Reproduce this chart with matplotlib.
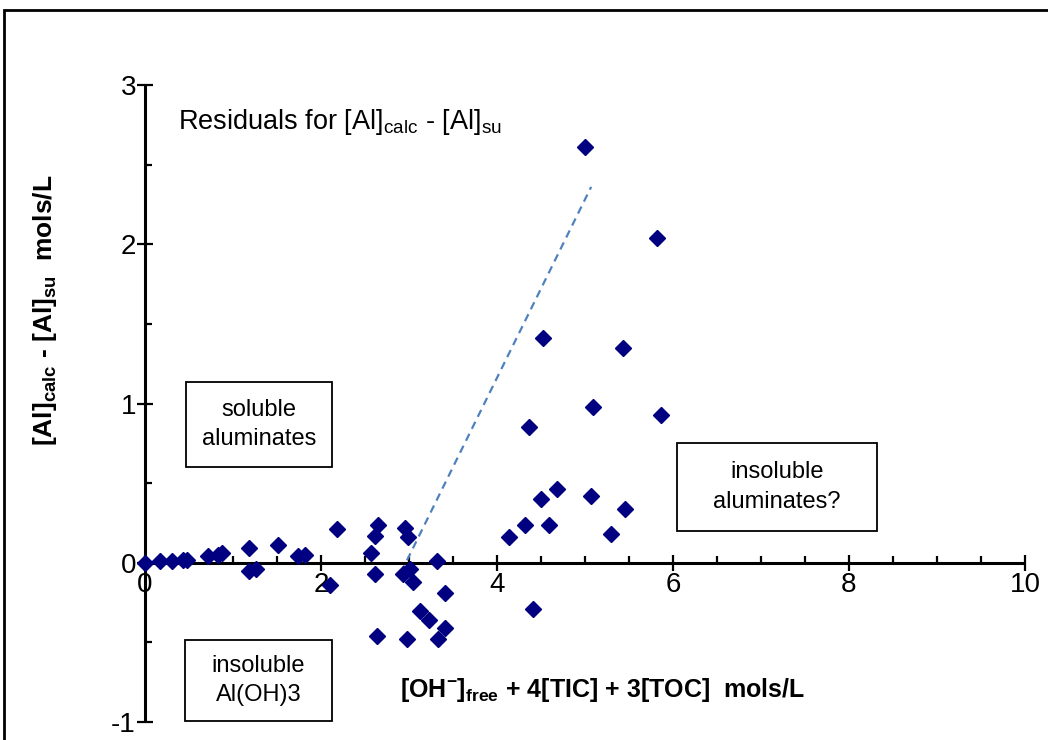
import matplotlib
matplotlib.use('Agg')
import matplotlib.pyplot as plt
from matplotlib.patches import Rectangle
from matplotlib.ticker import MultipleLocator

plt.rcParams['font.family'] = ['Liberation Sans', 'DejaVu Sans']
plt.rcParams['mathtext.fontset'] = 'custom'
plt.rcParams['mathtext.rm'] = 'Liberation Sans'
plt.rcParams['mathtext.bf'] = 'Liberation Sans:bold'
plt.rcParams['mathtext.it'] = 'Liberation Sans:italic'
plt.rcParams['axes.unicode_minus'] = False

# [OH-]free + 4[TIC] + 3[TOC]  vs  residual [Al]calc - [Al]su (mols/L)
oh_total = [0.00, 0.17, 0.31, 0.43, 0.48, 0.72, 0.83, 0.88, 1.18, 1.18,
            1.26, 1.51, 1.74, 1.82, 2.10, 2.18, 2.57, 2.61, 2.61, 2.65,
            2.64, 2.93, 2.95, 2.98, 2.99, 3.01, 3.05, 3.13, 3.23, 3.32,
            3.33, 3.41, 3.41, 4.14, 4.32, 4.36, 4.41, 4.50, 4.52, 4.59,
            4.68, 5.00, 5.07, 5.09, 5.30, 5.43, 5.45, 5.82, 5.86]
residual = [0.00, 0.01, 0.01, 0.02, 0.02, 0.04, 0.05, 0.06, 0.09, -0.05,
            -0.04, 0.11, 0.04, 0.05, -0.14, 0.21, 0.06, 0.17, -0.07, 0.24,
            -0.46, -0.07, 0.22, -0.48, 0.16, -0.04, -0.12, -0.30, -0.36, 0.01,
            -0.48, -0.19, -0.41, 0.16, 0.24, 0.85, -0.29, 0.40, 1.41, 0.24,
            0.46, 2.61, 0.42, 0.98, 0.18, 1.35, 0.34, 2.04, 0.93]

# dashed guide line
fit_x = [2.91, 5.07]
fit_y = [-0.06, 2.36]

W, H = 1048, 740
fig = plt.figure(figsize=(W / 100, H / 100), dpi=100)
ax = fig.add_axes([145 / W, 1 - 722 / H, 880 / W, 637 / H])
ax.set_facecolor('none')


def px_rect(x0, y0, x1, y1, **kw):
    # rectangle given in picture pixels (top-left origin)
    r = Rectangle((x0 / W, 1 - y1 / H), (x1 - x0) / W, (y1 - y0) / H,
                  transform=fig.transFigure, fill=False, **kw)
    fig.add_artist(r)


def px_text(x, y, s, **kw):
    fig.text(x / W, 1 - y / H, s, **kw)


ax.plot(fit_x, fit_y, color='#4f81bd', lw=1.6, dashes=(3.5, 2.5))
ax.plot(oh_total, residual, ls='none', marker='D', ms=8,
        color='#000080', mec='#000080', zorder=5, clip_on=False)

ax.set_xlim(0, 10)
ax.set_ylim(-1, 3)
for s in ['top', 'right']:
    ax.spines[s].set_visible(False)
ax.spines['left'].set_position(('data', 0))
ax.spines['bottom'].set_position(('data', 0))
for s in ['left', 'bottom']:
    ax.spines[s].set_linewidth(2.2)
    ax.spines[s].set_capstyle('butt')

ax.xaxis.set_major_locator(MultipleLocator(2))
ax.xaxis.set_minor_locator(MultipleLocator(0.5))
ax.yaxis.set_major_locator(MultipleLocator(1))
ax.yaxis.set_minor_locator(MultipleLocator(0.5))
ax.tick_params(which='major', direction='inout', length=11, width=1.6,
               labelsize=20, pad=1)
ax.tick_params(which='minor', direction='in', length=5, width=1.6)

px_rect(4, 10, 1100, 800, lw=2, ec='black')

px_text(178, 122, r'Residuals for [Al]$_{\mathrm{calc}}$ - [Al]$_{\mathrm{su}}$',
        fontsize=19.5, ha='left', va='center')

px_text(45, 310, r'[Al]$_{\mathbf{calc}}$ - [Al]$_{\mathbf{su}}$  mols/L',
        fontsize=19, fontweight='bold', rotation=90, ha='center', va='center')
px_text(603, 690, r'[OH$^{\mathbf{-}}$]$_{\mathbf{free}}$ + 4[TIC] + 3[TOC]  mols/L',
        fontsize=18, fontweight='bold', ha='center', va='center')

boxes = [((186, 382, 332, 467), 'soluble\naluminates'),
         ((677, 443, 877, 531), 'insoluble\naluminates?'),
         ((185, 640, 332, 721), 'insoluble\nAl(OH)3')]
for (x0, y0, x1, y1), label in boxes:
    px_rect(x0, y0, x1, y1, lw=1.3, ec='black')
    px_text((x0 + x1) / 2, (y0 + y1) / 2, label, fontsize=17,
            ha='center', va='center', multialignment='center', linespacing=1.45)

fig.savefig('out.png', dpi=100)
